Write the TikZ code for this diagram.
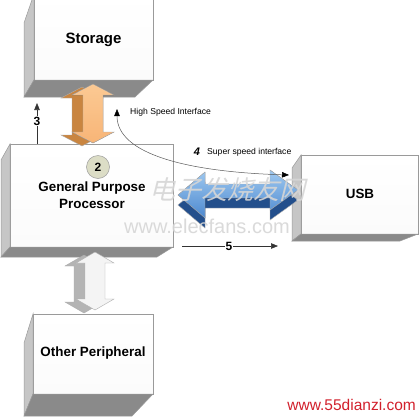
\documentclass[tikz,border=0pt]{standalone}
\usepackage{fontspec}
\setmainfont{Liberation Sans}
\newfontfamily\cjkwm[FakeSlant=0.25]{Noto Sans CJK SC}
\usetikzlibrary{arrows.meta,calc}
\definecolor{edgegray}{HTML}{9A9A9A}
\definecolor{sidegray}{HTML}{C6C6C6}
\definecolor{botgray}{HTML}{8A8A8A}
\definecolor{frontwhite}{HTML}{FBFBFB}
\definecolor{orfront}{HTML}{F8B577}
\definecolor{orfronttop}{HTML}{FBC993}
\definecolor{orback}{HTML}{C98540}
\definecolor{blfronttop}{HTML}{9FC9F0}
\definecolor{blfrontbot}{HTML}{4C88CF}
\definecolor{blback}{HTML}{234F8C}
\definecolor{grfront}{HTML}{F4F4F4}
\definecolor{grback}{HTML}{B4B4B4}
\definecolor{circfill}{HTML}{DCDDC6}
\definecolor{wmred}{HTML}{D2202C}
\definecolor{wmlight}{HTML}{D6D6D6}
\newcommand\boxsides[5]{%
  \fill[sidegray,draw=edgegray,line width=0.5pt] (#1.north west) -- ++(-#2,#3) -- ($(#1.south west)+(-#2,#4)$) -- (#1.south west) -- cycle;
  \fill[botgray,draw=edgegray,line width=0.5pt] (#1.south west) -- ++(-#2,#4) -- ($(#1.south east)+(-#5,#4)$) -- (#1.south east) -- cycle;
}
\begin{document}
\begin{tikzpicture}[x=1pt,y=-1pt,
  face/.style={draw=edgegray,line width=0.5pt,top color=white,bottom color=frontwhite,inner sep=0pt,outer sep=0pt},
  boxlabel/.style={font=\bfseries\fontsize{13.4}{15}\selectfont,inner sep=0pt},
  smalllabel/.style={font=\fontsize{8.6}{10}\selectfont,inner sep=0pt},
  numlabel/.style={font=\bfseries\fontsize{12}{14}\selectfont,fill=white,inner sep=1pt},
  dimarrow/.style={line width=0.6pt,black!80,-{Triangle[length=7pt,width=5.5pt]}},
  curvearrow/.style={line width=0.5pt,black!65,{Triangle[length=7pt,width=5.5pt,black]}-{Triangle[length=7pt,width=5.5pt,black]}},
  blockedge/.style={draw=edgegray!80,line width=0.4pt},
  wm/.style={font=\cjkwm\fontsize{26}{28}\selectfont,inner sep=0pt,text=wmlight,text opacity=0.9},
  wmurl/.style={font=\fontsize{20}{22}\selectfont,inner sep=0pt,text=wmlight,text opacity=0.9}]
\useasboundingbox (0,0) rectangle (420,416);
\fill[white] (0,0) rectangle (420,416);
\clip (0,0) rectangle (420,416);

% ---- boxes
\node[face,minimum width=119pt,minimum height=86pt] (stor) at (93.5,37) {};
\boxsides{stor}{10}{29}{17}{18}
\node[boxlabel,font=\bfseries\fontsize{15}{17}\selectfont] (storl) at (93.5,40) {Storage};

\node[face,minimum width=163pt,minimum height=103pt] (proc) at (91.5,195.5) {};
\boxsides{proc}{9}{16}{10}{16}
\node[boxlabel] (procl1) at (92,188) {General Purpose};
\node[boxlabel] (procl2) at (92,204) {Processor};
\node[circle,draw=edgegray,line width=0.5pt,fill=circfill,minimum size=23pt,inner sep=0pt,font=\bfseries\fontsize{12}{14}\selectfont] (two) at (98,167) {2};

\node[face,minimum width=117pt,minimum height=79pt] (usb) at (359.5,194.5) {};
\boxsides{usb}{9}{13}{7}{18}
\node[boxlabel] (usbl) at (360,194) {USB};

\node[face,minimum width=120pt,minimum height=80pt] (oth) at (93,354) {};
\boxsides{oth}{9}{29}{22}{21}
\node[boxlabel] (othl) at (93,353) {Other Peripheral};

% ---- orange double arrow (storage <-> processor)
\begin{scope}[shift={(-11,3)}]
\fill[orback,blockedge] (93,84) -- (114,95) -- (103,95) -- (103,132) -- (114,132) -- (93,143) -- (72,132) -- (83,132) -- (83,95) -- (72,95) -- cycle;
\end{scope}
\fill[top color=orfronttop,bottom color=orfront,blockedge] (93,84) -- (114,95) -- (103,95) -- (103,132) -- (114,132) -- (93,143) -- (72,132) -- (83,132) -- (83,95) -- (72,95) -- cycle;

% ---- gray double arrow (processor <-> other)
\begin{scope}[shift={(-11,3)}]
\fill[grback,blockedge] (95,252) -- (114,263) -- (105,263) -- (105,299) -- (114,299) -- (95,310) -- (76,299) -- (85,299) -- (85,263) -- (76,263) -- cycle;
\end{scope}
\fill[grfront,blockedge] (95,252) -- (114,263) -- (105,263) -- (105,299) -- (114,299) -- (95,310) -- (76,299) -- (85,299) -- (85,263) -- (76,263) -- cycle;

% ---- blue double arrow (processor <-> usb)
\begin{scope}[shift={(0,10)}]
\fill[blback,blockedge] (178,195) -- (205,172) -- (205,184) -- (270,184) -- (270,170) -- (298,190) -- (270,210) -- (270,198) -- (205,198) -- (205,218) -- cycle;
\end{scope}
\fill[top color=blfronttop,bottom color=blfrontbot,blockedge] (178,195) -- (205,172) -- (205,184) -- (270,184) -- (270,170) -- (298,190) -- (270,210) -- (270,198) -- (205,198) -- (205,218) -- cycle;

% ---- dimension arrow 3
\coordinate (a3) at (37,103);
\draw[dimarrow] (proc.north -| a3) -- (a3);
\node[numlabel] (n3) at (37,121) {3};

% ---- high speed / super speed curve
\coordinate (hsA) at (117,109);
\coordinate (hsB) at (289,175);
\draw[curvearrow] (hsA) .. controls (117,155) and (190,172) .. (hsB);
\node[smalllabel,anchor=west] (hsl) at (130,112) {High Speed Interface};
\node[font=\bfseries\itshape\fontsize{11}{12}\selectfont,inner sep=0pt] (n4) at (197,152) {4};
\node[smalllabel,anchor=west] (ssl) at (207,152) {Super speed interface};

% ---- dimension arrow 5
\coordinate (a5s) at (182,246);
\coordinate (a5e) at (278,246);
\draw[dimarrow] (a5s) -- (a5e);
\node[numlabel] (n5) at (229,246) {5};

% ---- watermarks
\node[wm] (wmc) at (227,190) {电子发烧友网};
\node[wmurl] (wuc) at (207,226) {www.elecfans.com};
\node[font=\fontsize{15.5}{17}\selectfont,text=wmred,anchor=east,inner sep=0pt] (wm55) at (416,405) {www.55dianzi.com};
\end{tikzpicture}
\end{document}
